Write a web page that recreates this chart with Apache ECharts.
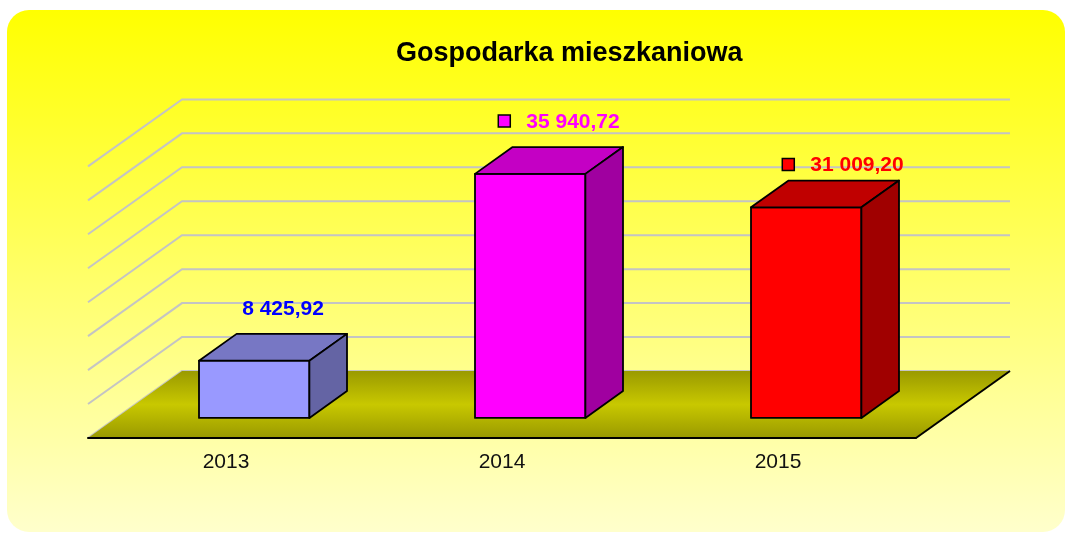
<!DOCTYPE html>
<html>
<head>
<meta charset="utf-8">
<script src="https://cdn.jsdelivr.net/npm/echarts@6/dist/echarts.min.js"></script>
<style>
  html, body { margin: 0; padding: 0; background: #fff; }
  #chart { width: 1065px; height: 533px; }
</style>
</head>
<body>
<div id="chart"></div>
<script>
const categories = ['2013', '2014', '2015'];
const values = [8425.92, 35940.72, 31009.2];
const valueTicks = [0, 5000, 10000, 15000, 20000, 25000, 30000, 35000, 40000];

// fake 3d: how far the back wall sits from the front plane, and where the bars are in that depth
const DX = 94, DY = -67;
const BAR_FRONT = 0.3, BAR_BACK = 0.7;
const FONT = '"Liberation Sans", Arial, sans-serif';
const LABEL_FONT = 'bold 21px ' + FONT;

const barStyles = [
  { front: '#9999ff', top: '#7777c4', side: '#6464a4', label: '#0000ff', key: false },
  { front: '#ff00ff', top: '#c400c4', side: '#a000a0', label: '#ff00ff', key: true },
  { front: '#ff0000', top: '#c00000', side: '#a00000', label: '#ff0000', key: true }
];
const labelShift = [[0, 0], [0, 0], [8, 10]];

const measure = document.createElement('canvas').getContext('2d');
measure.font = LABEL_FONT;

function plNumber(v) {
  const parts = v.toFixed(2).split('.');
  return parts[0].replace(/\B(?=(\d{3})+(?!\d))/g, ' ') + ',' + parts[1];
}

function renderGrid(params, api) {
  const cs = params.coordSys;
  const y = api.coord([0, api.value(1)])[1];
  const x0 = cs.x, x1 = cs.x + cs.width;
  return {
    type: 'polyline',
    shape: { points: [[x0, y], [x0 + DX, y + DY], [x1 + DX, y + DY]] },
    style: { stroke: '#c4c4c4', lineWidth: 2, fill: null }
  };
}

function renderFloor(params, api) {
  const cs = params.coordSys;
  const y = api.coord([0, 0])[1];
  const x0 = cs.x, x1 = cs.x + cs.width;
  return {
    type: 'group',
    children: [
      {
        type: 'polygon',
        shape: { points: [[x0, y], [x1, y], [x1 + DX, y + DY], [x0 + DX, y + DY]] },
        style: {
          fill: new echarts.graphic.LinearGradient(0, 0, 0, 1, [
            { offset: 0, color: '#9a9a00' },
            { offset: 0.5, color: '#c8c800' },
            { offset: 1, color: '#999900' }
          ])
        }
      },
      {
        type: 'line',
        shape: { x1: x1, y1: y, x2: x1 + DX, y2: y + DY },
        style: { stroke: '#000', lineWidth: 2 }
      }
    ]
  };
}

function renderBar(params, api) {
  const i = api.value(0);
  const v = api.value(1);
  const s = barStyles[i];
  const base = api.coord([i, 0]);
  const top = api.coord([i, v]);
  const w = api.size([1, 0])[0] * 0.4;
  const x0 = base[0] - w / 2 + BAR_FRONT * DX;
  const yB = base[1] + BAR_FRONT * DY;
  const yT = top[1] + BAR_FRONT * DY;
  const dx = (BAR_BACK - BAR_FRONT) * DX;
  const dy = (BAR_BACK - BAR_FRONT) * DY;
  const edge = { stroke: '#000', lineWidth: 1.8, lineJoin: 'round' };

  const text = plNumber(v);
  const tw = measure.measureText(text).width;
  const lx = base[0] + (BAR_FRONT + BAR_BACK) / 2 * DX + 10 + labelShift[i][0] + (s.key ? 14 : 0);
  const ly = yT + dy - 25 + labelShift[i][1];

  const children = [
    { type: 'rect', shape: { x: x0, y: yT, width: w, height: yB - yT },
      style: Object.assign({ fill: s.front }, edge) },
    { type: 'polygon', shape: { points: [[x0, yT], [x0 + w, yT], [x0 + w + dx, yT + dy], [x0 + dx, yT + dy]] },
      style: Object.assign({ fill: s.top }, edge) },
    { type: 'polygon', shape: { points: [[x0 + w, yT], [x0 + w + dx, yT + dy], [x0 + w + dx, yB + dy], [x0 + w, yB]] },
      style: Object.assign({ fill: s.side }, edge) },
    { type: 'text', x: lx, y: ly,
      style: { text: text, font: LABEL_FONT, fill: s.label, align: 'center', verticalAlign: 'middle' } }
  ];
  if (s.key) {
    const kx = lx - tw / 2 - 22;
    children.push({
      type: 'rect', shape: { x: kx - 6, y: ly - 7, width: 12, height: 12 },
      style: { fill: s.front, stroke: '#000', lineWidth: 1.5 }
    });
  }
  return { type: 'group', children: children };
}

const chart = echarts.init(document.getElementById('chart'));
chart.setOption({
  animation: false,
  graphic: [{
    type: 'rect',
    z: -100,
    silent: true,
    shape: { x: 7, y: 10, width: 1058, height: 522, r: 22 },
    style: {
      fill: new echarts.graphic.LinearGradient(0, 0, 0, 1, [
        { offset: 0, color: '#ffff00' },
        { offset: 1, color: '#ffffcc' }
      ])
    }
  }],
  title: {
    text: 'Gospodarka mieszkaniowa',
    left: 396,
    top: 40,
    padding: 0,
    textStyle: { fontSize: 27, fontWeight: 'bold', color: '#000', fontFamily: FONT }
  },
  grid: { left: 88, right: 149, top: 166.4, bottom: 95 },
  xAxis: {
    type: 'category',
    data: categories,
    z: 10,
    axisLine: { lineStyle: { color: '#000', width: 2 } },
    axisTick: { length: 7, lineStyle: { color: '#000', width: 1.5 } },
    axisLabel: { fontSize: 21, color: '#111', margin: 14, fontFamily: FONT }
  },
  yAxis: { type: 'value', min: 0, max: 40000, interval: 5000, show: false },
  series: [
    {
      type: 'custom',
      z: 1,
      clip: false,
      renderItem: renderGrid,
      data: valueTicks.map(v => [0, v])
    },
    {
      type: 'custom',
      z: 2,
      clip: false,
      renderItem: renderFloor,
      data: [[0, 0]]
    },
    {
      type: 'custom',
      z: 3,
      clip: false,
      renderItem: renderBar,
      data: values.map((v, i) => [i, v])
    }
  ]
});
</script>
</body>
</html>
